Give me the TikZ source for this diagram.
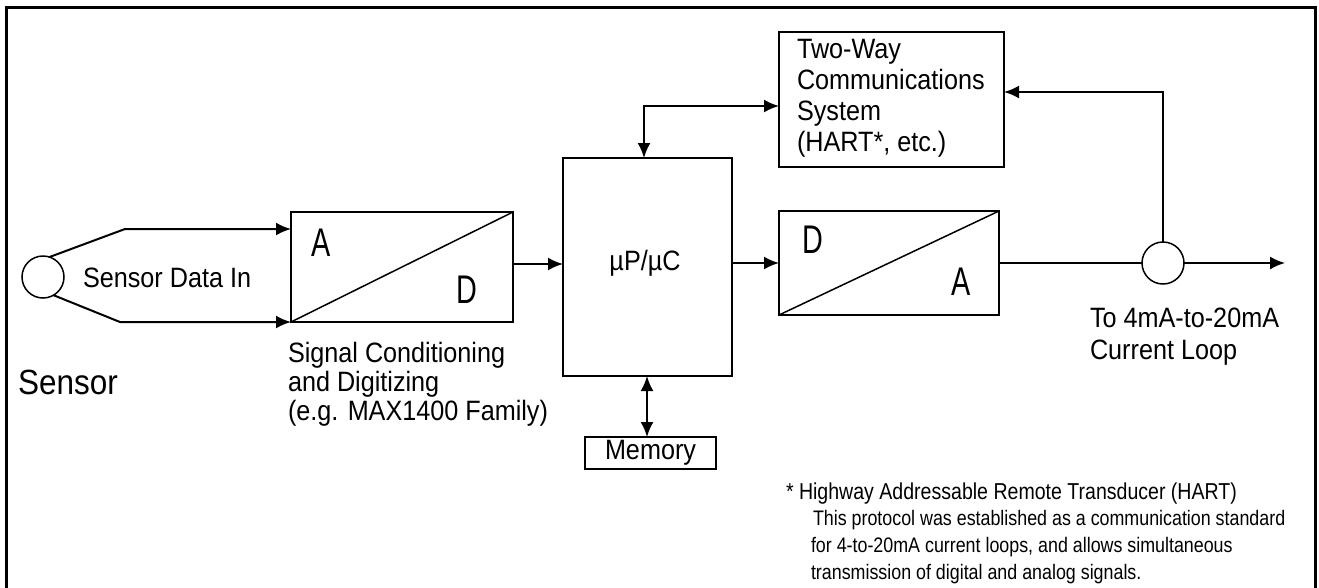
\documentclass[tikz,border=0pt]{standalone}
\usepackage{fontspec}
\setmainfont{Liberation Sans}
\newfontfamily\lblf[FakeStretch=0.9]{Liberation Sans}
\newfontfamily\adf[FakeStretch=0.72]{Liberation Sans}
\newfontfamily\fnf[FakeStretch=0.85]{Liberation Sans}
\usetikzlibrary{arrows.meta}
\begin{document}
\begin{tikzpicture}[x=1pt,y=-1pt,line width=2pt,
  box/.style={draw,line width=2pt,inner sep=0pt,outer sep=0pt},
  ring/.style={draw,circle,line width=1.5pt,inner sep=0pt,outer sep=0pt,minimum size=42pt},
  lbl/.style={inner sep=0pt,outer sep=0pt,anchor=base west,font=\lblf\fontsize{28}{31}\selectfont},
  big/.style={inner sep=0pt,outer sep=0pt,anchor=base west,font=\lblf\fontsize{35}{40}\selectfont},
  letter/.style={inner sep=0pt,outer sep=0pt,font=\adf\fontsize{40}{44}\selectfont},
  fn/.style={inner sep=0pt,outer sep=0pt,anchor=base west,font=\fnf\fontsize{21}{25}\selectfont},
  fnhead/.style={inner sep=0pt,outer sep=0pt,anchor=base west,font=\fnf\fontsize{23}{27}\selectfont},
  tip/.style={-{Latex[length=15pt,width=13pt]}},
  tips/.style={{Latex[length=15pt,width=13pt]}-{Latex[length=15pt,width=13pt]}}]
\useasboundingbox (0,0) rectangle (1319,587);
% frame
\draw[line width=3pt] (6.5,600) -- (6.5,7.5) -- (1315.5,7.5) -- (1315.5,600);

% blocks
\node[ring] (sensor) at (43,277) {};
\node[box,minimum width=222pt,minimum height=110pt] (adc) at (402,267) {};
\node[box,minimum width=169pt,minimum height=218pt] (mu) at (647.5,267) {};
\node[box,minimum width=220pt,minimum height=104pt] (dac) at (889,263) {};
\node[box,minimum width=225pt,minimum height=135pt] (tw) at (891.5,99.5) {};
\node[box,minimum width=131pt,minimum height=32pt,font=\lblf\fontsize{28}{31}\selectfont] (mem) at (650.5,453) {\raisebox{-2pt}{Memory}};
\node[ring] (loop) at (1163,263) {};
\coordinate (out) at (1285,263);

% diagonals
\draw[line width=1.5pt] (adc.south west) -- (adc.north east);
\draw[line width=1.5pt] (dac.south west) -- (dac.north east);

% letters
\node[letter] (adcA) at (321.5,242.5) {A};
\node[letter] (adcD) at (466.5,290) {D};
\node[letter] (dacD) at (813,240) {D};
\node[letter] (dacA) at (961,282) {A};
\node[inner sep=0pt,font=\lblf\fontsize{28}{31}\selectfont] (mutxt) at (645,263) {µP/µC};

% texts
\node[lbl] (sdi) at (83,287) {Sensor Data In};
\node[big] (sens) at (18,394) {Sensor};
\node[lbl] (sc1) at (288,362) {Signal Conditioning};
\node[lbl] (sc2) at (288,391) {and Digitizing};
\node[lbl] (sc3) at (288,420) {(e.g. MAX1400 Family)};
\node[lbl] (tw1) at (797,58) {Two-Way};
\node[lbl] (tw2) at (797,89) {Communications};
\node[lbl] (tw3) at (797,120) {System};
\node[lbl] (tw4) at (797,151) {(HART*, etc.)};
\node[lbl] (cl1) at (1090,327) {To 4mA-to-20mA};
\node[lbl] (cl2) at (1090,359) {Current Loop};
\node[fnhead] (fn1) at (786,499) {* Highway Addressable Remote Transducer (HART)};
\node[fn] (fn2) at (813,525) {This protocol was established as a communication standard};
\node[fn] (fn3) at (811,552) {for 4-to-20mA current loops, and allows simultaneous};
\node[fn] (fn4) at (811,579) {transmission of digital and analog signals.};

% connectors
\draw[tip] (sensor.72) -- (125,229) -- (adc.west |- 0,229);
\draw[tip] (sensor.-60) -- (120,322) -- (adc.south west);
\draw[tip] (adc.east |- 0,264) -- (mu.west |- 0,264);
\draw[tip] (mu.east |- 0,263) -- (dac.west);
\draw[tips] (mu.north -| 644,0) |- (tw.west |- 0,106);
\draw[tips] (mu.south -| 647,0) -- (mem.north -| 647,0);
\draw (dac.east) -- (loop.west);
\draw[tip] (loop.east) -- (out);
\draw[tip] (loop.north) |- (tw.east |- 0,92);
\end{tikzpicture}
\end{document}
